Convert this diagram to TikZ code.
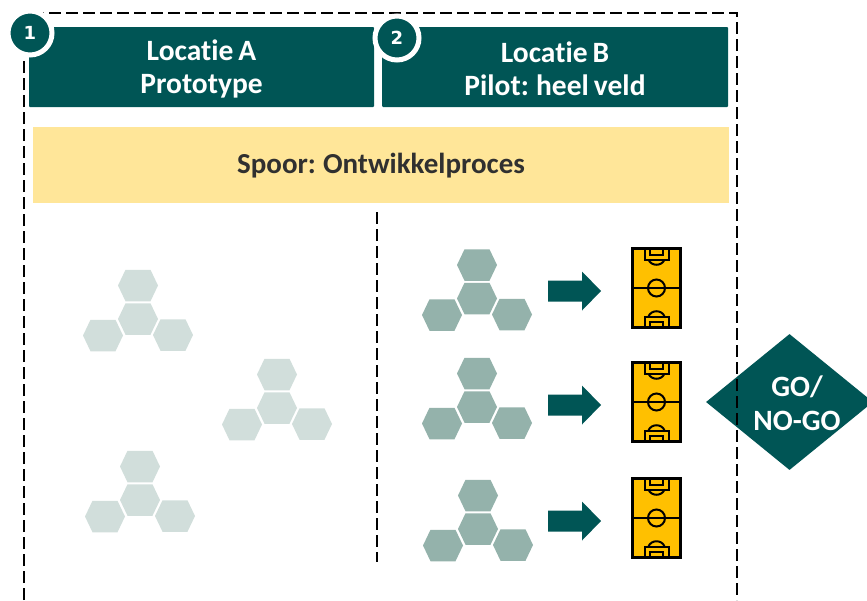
\documentclass[tikz,border=0pt]{standalone}
\usepackage{fontspec}
\setmainfont{Carlito}[Ligatures=NoCommon,WordSpace=0.75]
\newfontfamily\numfont{DejaVu Sans}
\usetikzlibrary{shapes.geometric}
\definecolor{dgreen}{HTML}{005555}
\definecolor{midhex}{HTML}{94B2AB}
\definecolor{palehex}{HTML}{D1DEDB}
\definecolor{band}{HTML}{FFE699}
\definecolor{pitchcol}{HTML}{FFC000}
\newcommand{\hexcell}[2]{\fill[pic actions,shift={(#1,#2)}] (-20,0)--(-12.5,-15.75)--(12.5,-15.75)--(20,0)--(12.5,15.75)--(-12.5,15.75)--cycle;}
\tikzset{
  dashline/.style={black,line width=2.9pt,dash pattern=on 12pt off 5pt},
  hdr/.style={fill=dgreen,rounded corners=1pt,inner sep=0pt,minimum height=80pt},
  hdrtext/.style={text=white,font=\fontsize{29.5}{33.5}\selectfont\bfseries,align=center,inner sep=0pt},
  num/.style={circle,fill=dgreen,draw=white,line width=5pt,minimum size=44pt,inner sep=0pt,text=white,font=\fontsize{18}{18}\selectfont\numfont\bfseries},
  pitchline/.style={black,line width=2pt},
  cluster/.pic={
    \hexcell{0}{-33.5}
    \hexcell{0}{0}
    \hexcell{-35}{16.5}
    \hexcell{35}{16}
  },
  goarrow/.pic={\fill[dgreen] (0,-10.5)--(34,-10.5)--(34,-19.5)--(53,0)--(34,19.5)--(34,10.5)--(0,10.5)--cycle;},
  field/.pic={
    \fill[pitchcol] (0,0) rectangle (49,80);
    \draw[pitchline] (0,40)--(49,40);
    \draw[pitchline] (24.5,40) circle (8.5);
    \draw[pitchline] (12.5,0)--(12.5,11.5)--(36.5,11.5)--(36.5,0);
    \draw[pitchline] (18,0)--(18,6.5)--(31,6.5)--(31,0);
    \draw[pitchline] (16.5,11.5) .. controls (19,18.5) and (30,18.5) .. (32.5,11.5);
    \draw[pitchline] (12.5,80)--(12.5,68.5)--(36.5,68.5)--(36.5,80);
    \draw[pitchline] (18,80)--(18,73.5)--(31,73.5)--(31,80);
    \draw[pitchline] (16.5,68.5) .. controls (19,61.5) and (30,61.5) .. (32.5,68.5);
    \draw[black,line width=3pt] (0.5,0.5) rectangle (48.5,79.5);
  }
}
\begin{document}
\begin{tikzpicture}[x=1pt,y=-1pt]
\useasboundingbox (0,0) rectangle (867,600);
% diamond first, dashed frame passes over it
\node[diamond,fill=dgreen,minimum width=167pt,minimum height=136pt,inner sep=0pt] (go) at (789.5,402) {};
\node[hdrtext] (golabel) at (797,403) {GO/\\NO-GO};
% frame
\coordinate (tl) at (24,13);
\coordinate (tr) at (737,13);
\coordinate (bl) at (24,600);
\coordinate (br) at (737,600);
\draw[dashline] (bl)--(tl)--(tr)--(br);
\coordinate (dt) at (377,212);
\coordinate (db) at (377,562);
\draw[dashline] (dt)--(db);
% headers
\node[hdr,minimum width=345pt] (a) at (201.5,67) {};
\node[hdr,minimum width=346pt] (b) at (555,67) {};
\node[hdrtext] (alabel) at (201.5,69) {Locatie A\\Prototype};
\node[hdrtext] (blabel) at (555,69) {Locatie B\\Pilot: heel veld};
\node[num] (n1) at (30,33) {\raisebox{-3pt}{1}};
\node[num] (n2) at (397,38) {2};
% band
\node[fill=band,minimum width=696pt,minimum height=76pt,inner sep=0pt] (spoor) at (381,165) {};
\node[text={rgb,255:red,48;green,48;blue,48},font=\fontsize{29}{30}\selectfont\bfseries,inner sep=0pt] (spoorlabel) at (381,166) {Spoor: Ontwikkelproces};
% pale clusters
\pic[palehex] at (138,319) {cluster};
\pic[palehex] at (277,408) {cluster};
\pic[palehex] at (140,500) {cluster};
% active clusters
\pic[midhex] at (477,298.5) {cluster};
\pic[midhex] at (477,407) {cluster};
\pic[midhex] at (478,529) {cluster};
% arrows
\pic at (548,291) {goarrow};
\pic at (548,405) {goarrow};
\pic at (548,521) {goarrow};
% fields
\pic at (632,248) {field};
\pic at (632,362) {field};
\pic at (632,478) {field};
\end{tikzpicture}
\end{document}
